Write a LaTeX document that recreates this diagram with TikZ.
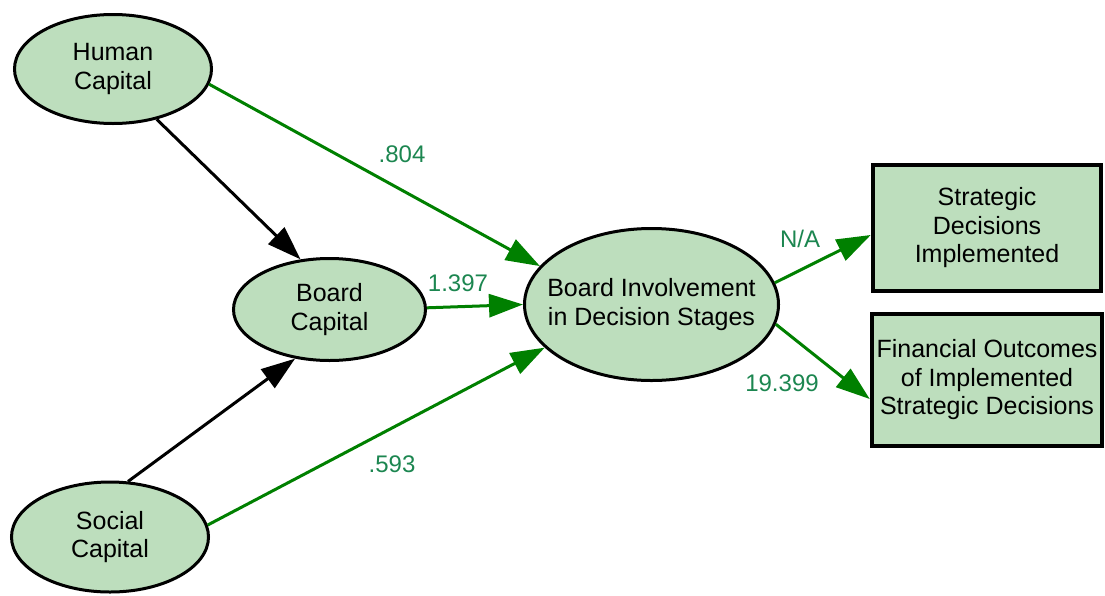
\documentclass[tikz,border=0pt]{standalone}
\usepackage{fontspec}
\setmainfont{Liberation Sans}
\usetikzlibrary{shapes.geometric,arrows.meta}
\definecolor{nodefill}{RGB}{189,222,189}
\definecolor{pathgreen}{RGB}{0,128,0}
\definecolor{coefgreen}{RGB}{28,134,80}
\tikzset{
  construct/.style={ellipse, draw=black, line width=3pt, fill=nodefill,
    inner sep=0pt, align=center, font=\fontsize{25}{28.5}\selectfont},
  outcome/.style={rectangle, draw=black, line width=4.5pt, fill=nodefill,
    inner sep=0pt, align=center, font=\fontsize{25}{28.5}\selectfont},
  causal/.style={line width=3pt, draw=black,
    -{Triangle[length=34pt,width=23pt]}},
  effect/.style={line width=3pt, draw=pathgreen,
    -{Triangle[length=34pt,width=23pt]}},
  coef/.style={text=coefgreen, font=\fontsize{24}{28}\selectfont, inner sep=0pt}
}
\begin{document}
\begin{tikzpicture}[x=1pt,y=-1pt]
\useasboundingbox (0,0) rectangle (1105,595);

% constructs
\node[construct, minimum width=197pt, minimum height=109pt] (hc) at (113,69) {Human\\Capital};
\node[construct, minimum width=192pt, minimum height=102pt] (bc) at (329.5,309.5) {Board\\Capital};
\node[construct, minimum width=197pt, minimum height=110pt] (sc) at (110,537) {Social\\Capital};
% the long text would otherwise widen the ellipse beyond its set size
\node[construct, inner xsep=-30pt, minimum width=254pt, minimum height=152pt] (bi) at (651.5,304.5) {Board Involvement\\in Decision Stages};

% outcomes
\node[outcome, minimum width=228pt, minimum height=126pt] (sd) at (987,228) {Strategic\\Decisions\\Implemented};
\node[outcome, minimum width=230pt, minimum height=132pt] (fo) at (987,380) {Financial Outcomes\\of Implemented\\Strategic Decisions};

% antecedents of board capital
\draw[causal] (hc.-49) -- (bc.120);
\draw[causal] (sc.72) -- (bc.235);

% paths into board involvement
\draw[effect] (hc.-9) -- (bi.161);
\draw[effect] (bc.1) -- (bi.180);
\draw[effect] (sc.7) -- (bi.202);

% paths to the outcomes
\coordinate (sdin) at ([yshift=-7pt]sd.west);
\coordinate (foin) at ([yshift=-19pt]fo.west);
\draw[effect] (bi.10) -- (sdin);
\draw[effect] (bi.-9) -- (foin);

% path coefficients
\node[coef] (c1) at (402,154) {.804};
\node[coef] (c2) at (458,283) {1.397};
\node[coef] (c3) at (392,464) {.593};
\node[coef] (c4) at (800,238.5) {N/A};
\node[coef] (c5) at (782,383) {19.399};
\end{tikzpicture}
\end{document}
